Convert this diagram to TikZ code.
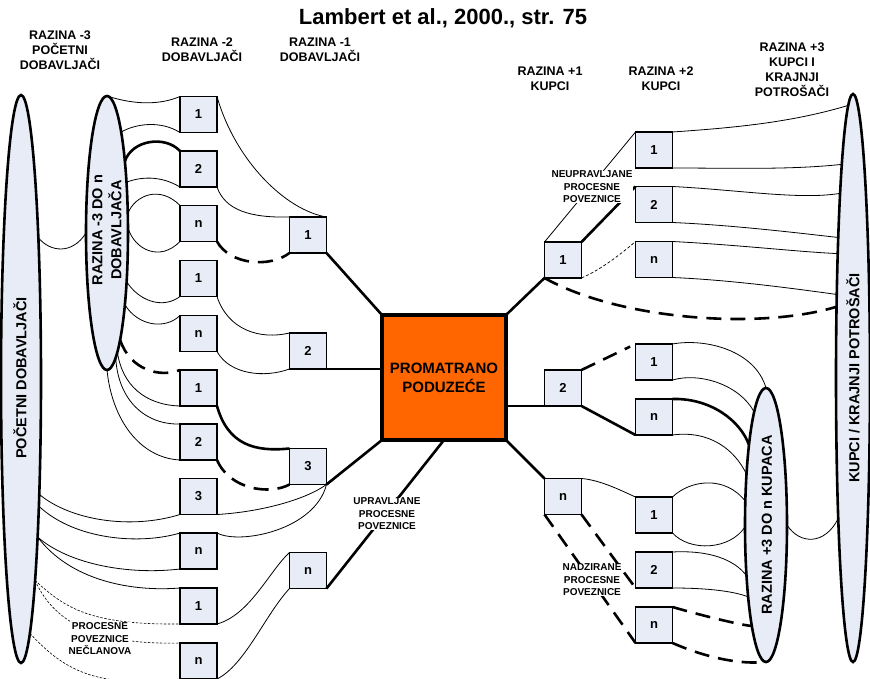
\documentclass[tikz,border=0pt]{standalone}
\usepackage{fontspec}
\setmainfont{Liberation Sans}
\usetikzlibrary{shapes.geometric}
\definecolor{boxblue}{RGB}{231,236,246}
\definecolor{corange}{RGB}{255,102,0}
\begin{document}
\begin{tikzpicture}[x=1pt,y=-1pt,
  lnk/.style={line width=0.8pt},
  strong/.style={line width=2.6pt},
  strongdash/.style={line width=2.6pt, dash pattern=on 15pt off 9pt},
  thindash/.style={line width=0.7pt, dash pattern=on 3pt off 2pt},
  fine/.style={line width=0.6pt, dash pattern=on 2.5pt off 1.5pt},
  unit/.style={draw, line width=1.6pt, fill=boxblue, minimum width=37pt, minimum height=36pt,
    inner sep=0pt, outer sep=0pt, font=\fontsize{13}{15}\selectfont\bfseries},
  ell/.style={draw, ellipse, line width=2.6pt, fill=boxblue, inner sep=0pt, outer sep=0pt},
  head/.style={align=center, font=\fontsize{12.5}{15}\selectfont\bfseries},
  tag/.style={align=center, fill=white, inner sep=0.5pt, font=\fontsize{10}{12.5}\selectfont\bfseries},
  elltext/.style={rotate=90, align=center, font=\fontsize{14.5}{19}\selectfont\bfseries}
]
\useasboundingbox (0,0) rectangle (870,679);

% title and column headings
\node[font=\fontsize{22}{26}\selectfont\bfseries] (title) at (443,18) {Lambert et al., 2000., str. 75};
\node[head] (hm3) at (60,50) {RAZINA -3\\POČETNI\\DOBAVLJAČI};
\node[head] (hm2) at (202,50) {RAZINA -2\\DOBAVLJAČI};
\node[head] (hm1) at (320,50) {RAZINA -1\\DOBAVLJAČI};
\node[head] (hp1) at (550,79) {RAZINA +1\\KUPCI};
\node[head] (hp2) at (661,79) {RAZINA +2\\KUPCI};
\node[head] (hp3) at (792,69.5) {RAZINA +3\\KUPCI I\\KRAJNJI\\POTROŠAČI};

% ellipses
\node[ell, minimum width=40pt, minimum height=568pt] (L) at (21,379) {};
\node[ell, minimum width=42pt, minimum height=274pt] (S) at (107,233) {};
\node[ell, minimum width=34pt, minimum height=568pt] (R) at (853,378) {};
\node[ell, minimum width=42pt, minimum height=274pt] (Q) at (766,525) {};
\node[elltext] (Ltxt) at (20,378) {POČETNI DOBAVLJAČI};
\node[elltext] (Stxt) at (107,230) {RAZINA -3 DO n\\DOBAVLJAČA};
\node[elltext] (Qtxt) at (767,525) {RAZINA +3 DO n KUPACA};
\node[elltext] (Rtxt) at (853,378) {KUPCI / KRAJNJI POTROŠAČI};

% focal company
\node[draw, line width=4.5pt, fill=corange, minimum width=124pt, minimum height=125pt,
  inner sep=0pt, outer sep=0pt, align=center, font=\fontsize{15}{19}\selectfont\bfseries]
  (O) at (444,377.5) {PROMATRANO\\PODUZEĆE};

% tier -2 suppliers
\node[unit] (b1) at (198.5,114.5) {1};
\node[unit] (b2) at (198.5,169) {2};
\node[unit] (bn1) at (198.5,223.5) {n};
\node[unit] (b4) at (198.5,278.5) {1};
\node[unit] (bn2) at (198.5,333.5) {n};
\node[unit] (b6) at (198.5,388) {1};
\node[unit] (b7) at (198.5,442) {2};
\node[unit] (b8) at (198.5,496.5) {3};
\node[unit] (bn3) at (198.5,551) {n};
\node[unit] (b10) at (198.5,606) {1};
\node[unit] (b11) at (198.5,661) {n};

% tier -1 suppliers
\node[unit] (a1) at (308,235) {1};
\node[unit] (a2) at (308,351) {2};
\node[unit] (a3) at (308,466.5) {3};
\node[unit] (an) at (308,570.5) {n};

% tier +1 customers
\node[unit] (c1) at (563,260) {1};
\node[unit] (c2) at (563,388) {2};
\node[unit] (cn) at (563,496.5) {n};

% tier +2 customers
\node[unit] (d1) at (654,150) {1};
\node[unit] (d2) at (654,204.5) {2};
\node[unit] (dn) at (654,259.5) {n};
\node[unit] (d3) at (654,362) {1};
\node[unit] (d4) at (654,417) {n};
\node[unit] (d5) at (654,515) {1};
\node[unit] (d6) at (654,570) {2};
\node[unit] (d7) at (654,625) {n};

% initial suppliers -> tier -3 .. n
\draw[lnk] (L.83.48) .. controls (50,252) and (72,255) .. (S.180);
\draw[lnk] (S.90) .. controls (135,105) and (160,105) .. (b1.north west);
\draw[lnk] (S.82.51) .. controls (135,124) and (160,120) .. (b1.south west);
\draw[strong] (S.76.81) .. controls (132,140) and (165,135) .. (b2.north west);
\draw[lnk] (S.69.09) .. controls (140,177) and (160,175) .. (b2.south west);
\draw[lnk] (S.43.9) .. controls (135,195) and (160,185) .. (bn1.north west);
\draw[lnk] (S.13.4) .. controls (135,250) and (160,262) .. (bn1.south west);
\draw[lnk] (S.-68.64) .. controls (138,300) and (162,310) .. (b4.south west);
\draw[lnk] (S.-76.81) .. controls (138,326) and (165,330) .. (bn2.north west);
\draw[strongdash] (S.-83.84) .. controls (130,370) and (160,378) .. (b6.north west);
\draw[lnk] (S.-85.52) .. controls (122,385) and (145,405) .. (b6.south west);
\draw[lnk] (S.-86.65) .. controls (118,400) and (145,425) .. (b7.north west);
\draw[lnk] (S.-90) .. controls (112,420) and (140,458) .. (b7.south west);

\draw[lnk] (L.-81.41) .. controls (70,520) and (130,530) .. (b8.south west);
\draw[lnk] (L.-82.85) .. controls (75,540) and (140,545) .. (bn3.north west);
\draw[lnk] (L.-84.0) .. controls (70,565) and (130,575) .. (bn3.south west);
\draw[lnk] (L.-84.76) .. controls (70,580) and (130,592) .. (b10.north west);
\draw[fine] (L.-86.06) .. controls (65,608) and (90,625) .. (b10.south west);
\draw[fine] (L.-86.82) .. controls (55,625) and (100,645) .. (b11.north west);
\draw[fine] (L.-88.49) .. controls (60,665) and (90,690) .. (b11.south west);

% tier -2 -> tier -1
\draw[lnk] (b1.north east) .. controls (235,160) and (285,210) .. (a1.north east);
\draw[lnk] (b2.south east) .. controls (225,210) and (250,218) .. (a1.north west);
\draw[strongdash] (bn1.south east) .. controls (230,265) and (270,268) .. (a1.south west);
\draw[lnk] (b4.south east) .. controls (228,330) and (260,340) .. (a2.north west);
\draw[lnk] (bn2.south east) .. controls (230,375) and (265,378) .. (a2.south west);
\draw[strong] (b6.south east) .. controls (228,445) and (255,452) .. (a3.north west);
\draw[strongdash] (b7.south east) .. controls (230,490) and (270,495) .. (a3.south west);
\draw[lnk] (b8.south east) .. controls (260,512) and (305,500) .. (a3.south east);
\draw[lnk] (bn3.north east) .. controls (240,545) and (315,530) .. (a3.south east);
\draw[lnk] (b10.south east) .. controls (250,615) and (270,570) .. (an.north west);
\draw[lnk] (b11.south east) .. controls (245,665) and (265,615) .. (an.south west);

% tier -1 -> focal company
\draw[strong] (a1.south east) -- (O.north west);
\draw[strong] (a2.south east) -- (a2.south east -| O.west);
\draw[strong] (a3.south east) -- (O.south west);
\draw[strong] (an.south east) -- (O.south);

% focal company -> tier +1
\draw[strong] (O.north east) -- (c1.south west);
\draw[strong] (O.east |- c2.south west) -- (c2.south west);
\draw[strong] (O.south east) -- (cn.north west);

% tier +1 -> tier +2
\draw[lnk] (c1.north west) -- (d1.north west);
\draw[strong] (c1.north east) -- (d2.north west);
\draw[thindash] (c1.south east) .. controls (600,270) and (620,255) .. (dn.north west);
\draw[strongdash] (c1.south west) .. controls (620,320) and (760,330) .. (R.103.24);
\draw[strongdash, shorten >=6pt] (c2.north east) -- (d3.north west);
\draw[strong] (c2.south east) -- (d4.south west);
\draw[lnk] (cn.north east) .. controls (600,480) and (620,490) .. (d5.north west);
\draw[strongdash] (cn.south west) -- (d7.south west);
\draw[strongdash] (cn.south east) -- (d6.south west);

% tier +2 -> end customers
\draw[lnk] (d1.north east) .. controls (730,128) and (790,123) .. (R.91.61);
\draw[lnk] (d1.south east) .. controls (730,168) and (790,170) .. (R.93.25);
\draw[lnk] (d2.north east) .. controls (740,190) and (800,200) .. (R.94.75);
\draw[lnk] (d2.south east) .. controls (730,225) and (790,232) .. (R.96.15);
\draw[lnk] (dn.north east) .. controls (740,245) and (800,252) .. (R.97.86);
\draw[lnk] (dn.south east) .. controls (730,280) and (790,288) .. (R.101.23);

% tier +2 -> tier +3 .. n
\draw[lnk] (d3.north east) .. controls (705,338) and (755,350) .. (Q.90);
\draw[lnk] (d3.south east) .. controls (700,372) and (740,385) .. (Q.96.82);
\draw[strong] (d4.north east) .. controls (710,398) and (740,420) .. (Q.102.71);
\draw[lnk] (d4.south east) .. controls (710,430) and (735,450) .. (Q.111.35);
\draw[lnk] (d5.north east) .. controls (690,480) and (725,475) .. (Q.131.99);
\draw[lnk] (d5.south east) .. controls (690,552) and (730,550) .. (Q.185.4);
\draw[lnk] (Q.0) .. controls (800,545) and (825,545) .. (R.264.19);
\draw[lnk] (d6.north east) .. controls (710,550) and (735,560) .. (Q.249.93);
\draw[lnk] (d6.south east) .. controls (700,588) and (730,590) .. (Q.256.81);
\draw[strongdash] (d7.north east) .. controls (700,615) and (740,625) .. (Q.262.99);
\draw[strongdash] (d7.south east) .. controls (700,655) and (735,665) .. (Q.270);

% link-type labels
\node[tag] (tUpr) at (387,514) {UPRAVLJANE\\PROCESNE\\POVEZNICE};
\node[tag] (tNeu) at (592,187) {NEUPRAVLJANE\\PROCESNE\\POVEZNICE};
\node[tag] (tNad) at (592,580) {NADZIRANE\\PROCESNE\\POVEZNICE};
\node[tag] (tNcl) at (100,639) {PROCESNE\\POVEZNICE\\NEČLANOVA};
\end{tikzpicture}
\end{document}
